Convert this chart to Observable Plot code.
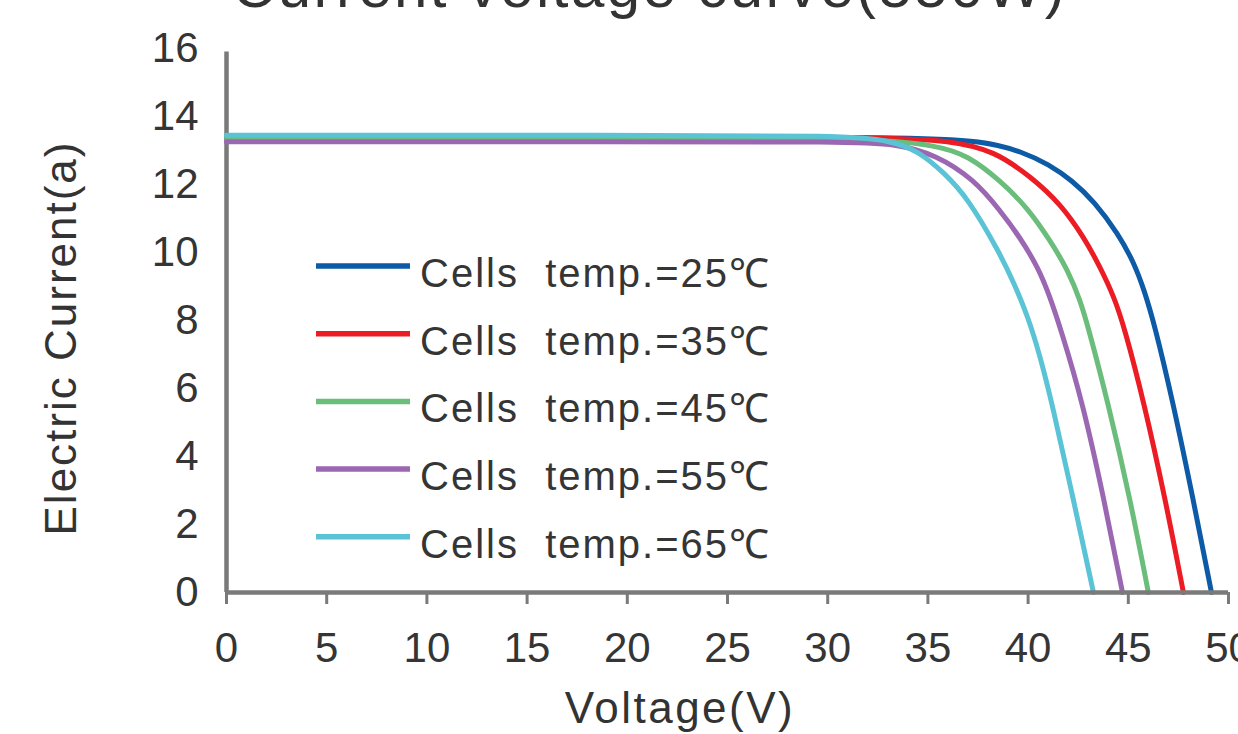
<!DOCTYPE html>
<html>
<head>
<meta charset="utf-8">
<script src="https://cdn.jsdelivr.net/npm/d3@7"></script>
<script src="https://cdn.jsdelivr.net/npm/@observablehq/plot@0.6"></script>
<style>
  html, body { margin: 0; padding: 0; background: #fff; overflow: hidden; }
  #wrap { position: relative; width: 1238px; height: 734px; overflow: hidden; font-family: "Liberation Sans", Arial, sans-serif; color: #333; }
  #title { position: absolute; left: 232px; top: -43px; font-size: 60px; line-height: 60px; white-space: pre; letter-spacing: 2.4px; color: #333; }
  #ylab { position: absolute; left: 61px; top: 338px; transform: translate(-50%, -50%) rotate(-90deg); font-size: 44px; letter-spacing: 2px; white-space: pre; }
  #xlab { position: absolute; left: 680px; top: 708px; transform: translate(-50%, -50%); font-size: 44px; letter-spacing: 2.5px; white-space: pre; }
  #legend { position: absolute; left: 0; top: 0; }
  #chart { position: absolute; left: 0; top: 0; }
</style>
</head>
<body>
<div id="wrap">
  <div id="chart"></div>
  <div id="title">Current voltage curve(550W)</div>
  <div id="ylab">Electric Current(a)</div>
  <div id="xlab">Voltage(V)</div>
  <svg id="legend" width="1238" height="734"></svg>
</div>
<script>
// Series names and colours
const seriesNames = ["Cells  temp.=25℃", "Cells  temp.=35℃", "Cells  temp.=45℃", "Cells  temp.=55℃", "Cells  temp.=65℃"];
const seriesColors = ["#0d5aa7", "#ec1c24", "#6abd7a", "#9b67b2", "#5ac3d6"];

// Voltage (V) and current (A), per series
const v25 = [0, 20, 34, 37.8, 39.8, 41.0, 42.2, 43.3, 44.5, 45.3, 45.8, 46.3, 47.21, 48.25, 49.15];
const i25 = [13.4, 13.4, 13.39, 13.29, 12.94, 12.6, 12.12, 11.5, 10.55, 9.68, 8.88, 7.9, 5.65, 2.71, 0];

const v35 = [0, 20, 33, 36.1, 38.3, 40.2, 41.6, 42.8, 43.6, 44.3, 44.8, 45.76, 46.86, 47.75];
const i35 = [13.4, 13.4, 13.39, 13.29, 13.0, 12.2, 11.44, 10.44, 9.56, 8.68, 7.8, 5.65, 2.71, 0];

const v45 = [0, 20, 32, 35.5, 37.0, 38.6, 40.0, 41.1, 42.0, 42.6, 43.0, 43.96, 45.11, 46.0];
const i45 = [13.38, 13.38, 13.37, 13.15, 12.85, 12.12, 11.3, 10.35, 9.47, 8.59, 7.8, 5.65, 2.71, 0];

const v55 = [0, 20, 31, 33.4, 35.4, 37.3, 38.6, 39.6, 40.5, 41.1, 41.6, 42.7, 43.8, 44.71];
const i55 = [13.26, 13.26, 13.26, 13.2, 12.88, 12.15, 11.24, 10.44, 9.56, 8.68, 7.8, 5.65, 2.71, 0];

const v65 = [0, 20, 31, 33.1, 34.5, 35.8, 37.0, 38.6, 39.3, 40.0, 40.6, 41.2, 42.27, 43.26];
const i65 = [13.45, 13.45, 13.44, 13.29, 13.0, 12.35, 11.6, 9.97, 9.09, 8.1, 6.95, 5.55, 2.71, 0];

// Axis ticks
const xTicks = [0, 5, 10, 15, 20, 25, 30, 35, 40, 45, 50];
const yTicks = [0, 2, 4, 6, 8, 10, 12, 14, 16];

const vols = [v25, v35, v45, v55, v65];
const curs = [i25, i35, i45, i55, i65];
const rows = [];
seriesNames.forEach((name, k) => {
  vols[k].forEach((v, j) => rows.push({ V: v, I: curs[k][j], series: name }));
});

const axisGray = "#7a7a7a";
const textCol = "#353535";

const chart = Plot.plot({
  width: 1238,
  height: 734,
  marginLeft: 226,
  marginRight: 10,
  marginTop: 48,
  marginBottom: 142,
  style: { fontFamily: "Liberation Sans, Arial, sans-serif", background: "transparent", overflow: "visible" },
  x: { domain: [0, 50] },
  y: { domain: [0, 16] },
  color: { domain: seriesNames, range: seriesColors },
  marks: [
    Plot.axisY({ ticks: yTicks, tickSize: 0, tickPadding: 28, fontSize: 42, fill: textCol, label: null }),
    Plot.axisX({ ticks: xTicks, tickSize: 12, tickPadding: 28, fontSize: 42, fill: textCol, stroke: axisGray, strokeWidth: 3, label: null }),
    Plot.ruleX([0], { y1: 0, y2: 15.9, stroke: axisGray, strokeWidth: 4.5 }),
    Plot.line(rows, { x: "V", y: "I", z: "series", stroke: "series", strokeWidth: 5, curve: "basis" }),
    Plot.ruleY([0], { stroke: axisGray, strokeWidth: 4.5 })
  ]
});
document.getElementById("chart").appendChild(chart);

// Legend inside the plot area
const lg = d3.select("#legend");
const legendRows = lg.selectAll("g").data(seriesNames).join("g")
  .attr("transform", (d, k) => `translate(316, ${266 + k * 67.7})`);
legendRows.append("line")
  .attr("x1", 0).attr("x2", 94).attr("y1", 0).attr("y2", 0)
  .attr("stroke", (d, k) => seriesColors[k]).attr("stroke-width", 5.5);
legendRows.append("text")
  .attr("x", 104).attr("y", 21)
  .attr("font-size", 40).attr("letter-spacing", 2)
  .attr("fill", textCol)
  .style("white-space", "pre")
  .attr("font-family", "Liberation Sans, Arial, sans-serif")
  .text(d => d);
</script>
</body>
</html>
